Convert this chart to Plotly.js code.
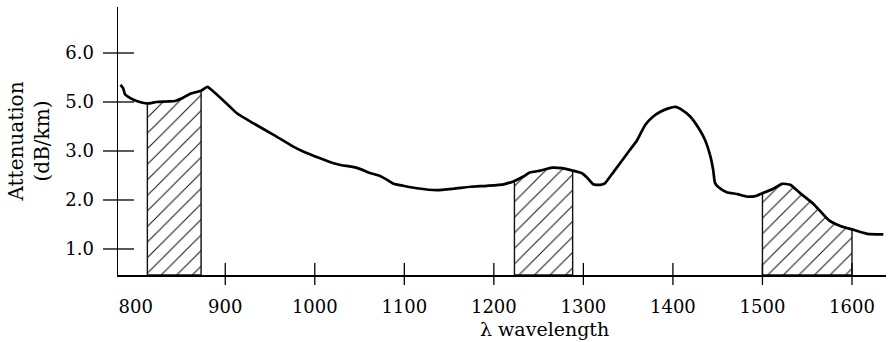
<!DOCTYPE html>
<html>
<head>
<meta charset="utf-8">
<script src="https://cdn.plot.ly/plotly-3.0.1.min.js"></script>
<style>html,body{margin:0;padding:0;background:#fff;}#chart{width:892px;height:342px;}</style>
</head>
<body>
<div id="chart"></div>
<script>
// Wavelength (nm) of the attenuation curve
var wavelength = [783, 786, 788, 794, 801, 813, 823, 835, 844, 851, 861, 873, 880, 887, 902, 913, 931, 954, 976, 987,
  1006, 1021, 1030, 1041, 1051, 1060, 1073, 1080, 1088, 1099, 1114, 1136, 1155, 1174, 1192, 1211, 1223, 1233, 1240,
  1252, 1265, 1276, 1288, 1298, 1304, 1311, 1319, 1324, 1334, 1349, 1360, 1369, 1377, 1386, 1395, 1403, 1410, 1419,
  1429, 1436, 1442, 1445, 1447, 1451, 1460, 1472, 1483, 1492, 1500, 1511, 1522, 1531, 1542, 1557, 1574, 1587, 1600,
  1617, 1635];
// Attenuation, in the chart's evenly spaced tick-position units
var attenuation = [4.35, 4.28, 4.16, 4.08, 4.02, 3.97, 4.00, 4.01, 4.02, 4.07, 4.17, 4.23, 4.31, 4.21, 3.96, 3.77, 3.57, 3.33, 3.09, 2.99,
  2.85, 2.75, 2.71, 2.68, 2.63, 2.56, 2.49, 2.42, 2.33, 2.29, 2.24, 2.20, 2.23, 2.27, 2.29, 2.32, 2.39, 2.48, 2.56,
  2.60, 2.66, 2.65, 2.60, 2.55, 2.46, 2.32, 2.31, 2.34, 2.58, 2.95, 3.22, 3.53, 3.69, 3.80, 3.87, 3.90, 3.84, 3.71,
  3.46, 3.22, 2.88, 2.61, 2.35, 2.26, 2.16, 2.12, 2.07, 2.08, 2.14, 2.22, 2.33, 2.31, 2.14, 1.92, 1.59, 1.47, 1.40,
  1.31, 1.30];
// Transmission windows (hatched bands)
var windowStart = [813, 1223, 1500];
var windowEnd = [873, 1288, 1600];
// Tick labels
var xTickValues = [800, 900, 1000, 1100, 1200, 1300, 1400, 1500, 1600];
var xTickLabels = ['800', '900', '1000', '1100', '1200', '1300', '1400', '1500', '1600'];
var xTickMarks = [900, 1000, 1100, 1200, 1300, 1400, 1500, 1600];
var yTickPositions = [1, 2, 3, 4, 5];
var yTickLabels = ['1.0', '2.0', '3.0', '5.0', '6.0'];

var xRange = [780.2, 1638.0];
var yRange = [0.469, 5.939];
var serif = 'DejaVu Serif, serif';

var traces = [];
for (var b = 0; b < windowStart.length; b++) {
  var px = [windowStart[b]], py = [yRange[0]];
  for (var i = 0; i < wavelength.length; i++) {
    if (wavelength[i] >= windowStart[b] && wavelength[i] <= windowEnd[b]) {
      px.push(wavelength[i]); py.push(attenuation[i]);
    }
  }
  px.push(windowEnd[b]); py.push(yRange[0]);
  px.push(windowStart[b]); py.push(yRange[0]);
  traces.push({
    x: px, y: py, type: 'scatter', mode: 'lines', fill: 'toself',
    fillcolor: 'white',
    fillpattern: {shape: '/', size: 11, solidity: 0.09, fgcolor: '#111', bgcolor: 'white'},
    line: {color: '#111', width: 1.4}, hoverinfo: 'skip', showlegend: false
  });
}
traces.push({
  x: wavelength, y: attenuation, type: 'scatter', mode: 'lines',
  line: {color: 'black', width: 2.7, shape: 'spline', smoothing: 0.5},
  showlegend: false
});

var shapes = [];
xTickMarks.forEach(function (v) {
  shapes.push({type: 'line', xref: 'x', x0: v, x1: v, yref: 'paper', ysizemode: 'pixel', yanchor: 0,
    y0: -10, y1: 12, line: {color: 'black', width: 1.3}});
});
yTickPositions.forEach(function (v) {
  shapes.push({type: 'line', yref: 'y', y0: v, y1: v, xref: 'paper', xsizemode: 'pixel', xanchor: 0,
    x0: -15, x1: 16, line: {color: 'black', width: 1.3}});
});

var layout = {
  width: 892, height: 342,
  margin: {l: 118, r: 6, t: 7, b: 67},
  paper_bgcolor: 'white', plot_bgcolor: 'white',
  font: {family: serif, size: 18, color: 'black'},
  xaxis: {
    range: xRange, showgrid: false, zeroline: false, showline: true, linecolor: 'black', linewidth: 1.5,
    tickmode: 'array', tickvals: xTickValues, ticktext: xTickLabels, ticks: '', ticklabelstandoff: 15,
    tickfont: {family: serif, size: 18, color: 'black'}
  },
  yaxis: {
    range: yRange, showgrid: false, zeroline: false, showline: true, linecolor: 'black', linewidth: 1.5,
    tickmode: 'array', tickvals: yTickPositions, ticktext: yTickLabels, ticks: '', ticklabelstandoff: 19,
    tickfont: {family: serif, size: 18, color: 'black'},
    title: {text: 'Attenuation<br>(dB/km)', font: {family: serif, size: 20, color: 'black'}, standoff: 10}
  },
  shapes: shapes,
  annotations: [{
    text: 'λ wavelength', xref: 'x', x: 1257, yref: 'paper', y: 0, yanchor: 'middle', yshift: -54,
    showarrow: false, font: {family: serif, size: 19, color: 'black'}
  }]
};

Plotly.newPlot('chart', traces, layout, {staticPlot: true, displayModeBar: false});
</script>
</body>
</html>
